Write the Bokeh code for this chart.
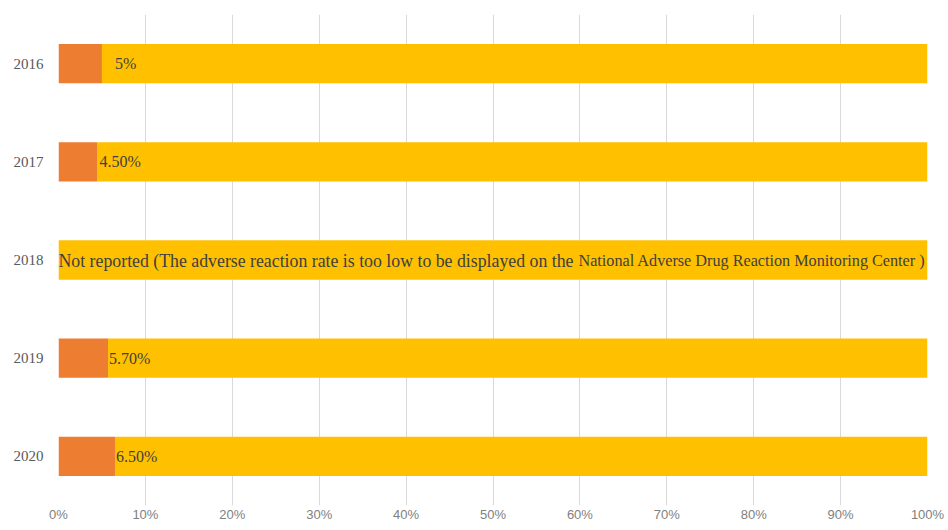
from bokeh.plotting import figure
from bokeh.models import ColumnDataSource, FixedTicker, Range1d, CustomJSTickFormatter
from bokeh.core.properties import value
from bokeh.embed import file_html
from bokeh.resources import INLINE

years = ["2016", "2017", "2018", "2019", "2020"]
adverse_rate = [5.0, 4.5, 0.0, 5.7, 6.5]
rest = [100 - v for v in adverse_rate]
rate_labels = ["5%", "4.50%", "", "5.70%", "6.50%"]
note_part1 = "Not reported (The adverse reaction rate is too low to be displayed on the"
note_part2 = "National Adverse Drug Reaction Monitoring Center )"
note_year = "2018"
x_ticks = [0, 10, 20, 30, 40, 50, 60, 70, 80, 90, 100]

label_offsets = [13, 2, 0, 1, 1]

src = ColumnDataSource(dict(year=years, adverse=adverse_rate, rest=rest,
                            label=rate_labels, off=label_offsets))

p = figure(width=948, height=530, y_range=list(reversed(years)),
           x_range=Range1d(0, 100), output_backend="svg", toolbar_location=None,
           min_border_left=58, min_border_right=21, min_border_top=14, min_border_bottom=25)
p.outline_line_color = None
p.background_fill_color = "white"

p.hbar_stack(["adverse", "rest"], y="year", height=0.4, source=src,
             color=["#ED7D31", "#FFC000"], line_color=None)

p.text(x="adverse", y="year", text="label", x_offset="off", source=src,
       text_font=value("Liberation Serif"), text_font_size="16px",
       text_color="#404040", text_baseline="middle", text_align="left")

p.text(x=[0], y=[note_year], text=[note_part1], x_offset=0, y_offset=1,
       text_font=value("Liberation Serif"), text_font_size="17.8px",
       text_color="#404040", text_baseline="middle", text_align="left")
p.text(x=[100], y=[note_year], text=[note_part2], x_offset=-2, y_offset=1,
       text_font=value("Liberation Serif"), text_font_size="16.2px",
       text_color="#404040", text_baseline="middle", text_align="right")

p.xaxis.ticker = FixedTicker(ticks=x_ticks)
p.xaxis.formatter = CustomJSTickFormatter(code="return tick + '%';")
p.xaxis.axis_line_color = None
p.xaxis.major_tick_line_color = None
p.xaxis.minor_tick_line_color = None
p.xaxis.major_tick_out = 0
p.xaxis.major_label_standoff = 1
p.xaxis.major_label_text_font = "Liberation Sans"
p.xaxis.major_label_text_font_size = "13px"
p.xaxis.major_label_text_color = "#808080"

p.yaxis.axis_line_color = None
p.yaxis.major_tick_line_color = None
p.yaxis.major_tick_out = 0
p.yaxis.major_label_standoff = 15
p.yaxis.major_label_text_font = "Liberation Serif"
p.yaxis.major_label_text_font_size = "15px"
p.yaxis.major_label_text_color = "#595959"

p.ygrid.grid_line_color = None
p.xgrid.grid_line_color = "#d9d9d9"
p.xgrid.grid_line_width = 1

open("out.html", "w").write(file_html(p, INLINE))
